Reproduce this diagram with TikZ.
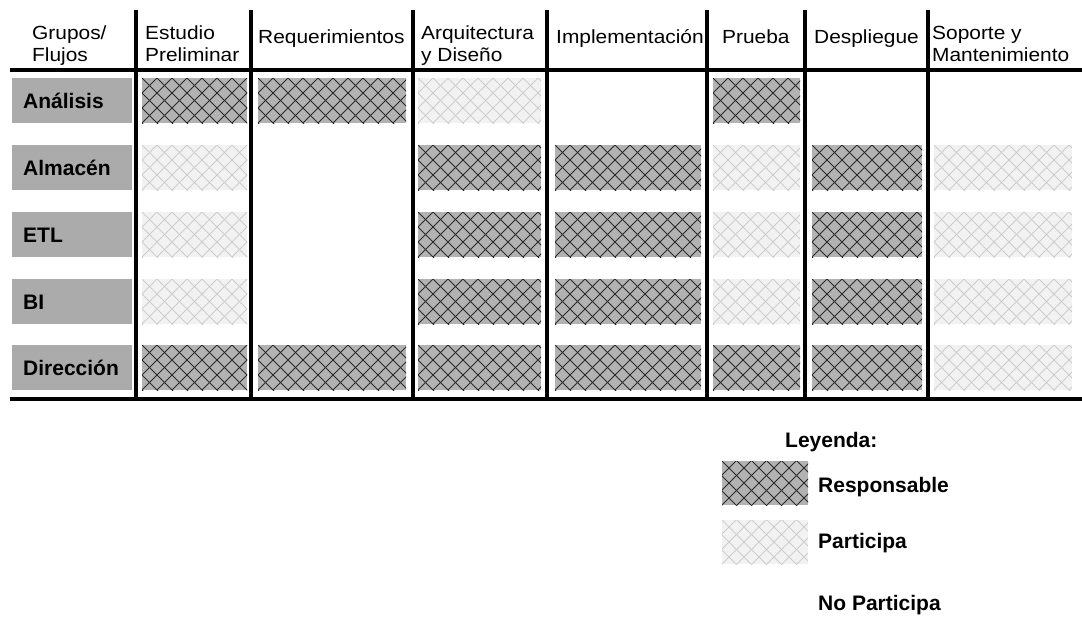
\documentclass[tikz,border=0pt]{standalone}
\usepackage{fontspec}
\setmainfont{Liberation Sans}
\newfontfamily\headfont[FakeStretch=1.1]{Liberation Sans}

\definecolor{boxgray}{HTML}{ABABAB}
\definecolor{respfill}{HTML}{B2B2B2}
\definecolor{resplines}{HTML}{2A2A2A}
\definecolor{partfill}{HTML}{F2F2F2}
\definecolor{partlines}{HTML}{CDCDCD}

% diagonal cross-hatching inside a node, diamonds 15pt x 15pt
\newcommand\crosshatch[1]{%
  \foreach \k in {-4,...,11}{%
    \draw[#1] ([xshift=\k*15pt]path picture bounding box.south west) -- ++(60pt,60pt);
    \draw[#1] ([xshift=\k*15pt]path picture bounding box.north west) -- ++(60pt,-60pt);
  }}

\begin{document}
\begin{tikzpicture}[x=1pt,y=-1pt,
  rule/.style={line width=3.3pt, black},
  baserule/.style={line width=4.5pt, black},
  head/.style={anchor=base west, inner sep=0pt, align=left,
    font=\headfont\fontsize{19}{22}\selectfont},
  labbox/.style={anchor=north west, inner sep=0pt, outer sep=0pt,
    fill=boxgray, minimum width=120pt, minimum height=45pt},
  labtext/.style={anchor=base west, inner sep=0pt,
    font=\fontsize{21}{24}\selectfont\bfseries},
  cellbase/.style={anchor=north west, inner sep=0pt, outer sep=0pt,
    minimum height=45pt},
  cellR/.style={cellbase, fill=respfill,
    path picture={\crosshatch{resplines, line width=1pt}}},
  cellP/.style={cellbase, fill=partfill,
    path picture={\crosshatch{partlines, line width=0.9pt}}},
  c1/.style={minimum width=105pt},
  c2/.style={minimum width=148pt},
  c3/.style={minimum width=123pt},
  c4/.style={minimum width=146pt},
  c5/.style={minimum width=87pt},
  c6/.style={minimum width=110pt},
  c7/.style={minimum width=138pt},
]
\useasboundingbox (0,0) rectangle (1082,616);

% column headers (two-line headers are placed by their last baseline)
\node[head] (hGrupos) at (32,61) {Grupos/\\Flujos};
\node[head] (hEst) at (145,61) {Estudio\\Preliminar};
\node[head] (hReq) at (258,43) {Requerimientos};
\node[head] (hArq) at (421,61) {Arquitectura\\y Diseño};
\node[head] (hImp) at (556,43) {Implementación};
\node[head] (hPru) at (722,43) {Prueba};
\node[head] (hDes) at (814,43) {Despliegue};
\node[head] (hSop) at (932,61) {Soporte y\\Mantenimiento};

% grid rules
\draw[rule] (10,70) -- (1082,70);
\foreach \x in {136,251,413,547,707,805,928}
  \draw[rule] (\x,10) -- (\x,399);
\draw[baserule] (10,399) -- (1082,399);

% group labels
\foreach \n/\t/\top in {gA/Análisis/78, gB/Almacén/145, gC/ETL/212,
                        gD/BI/279, gE/Dirección/345}{
  \node[labbox] (\n) at (12,\top) {};
  \node[labtext] (\n-t) at ([xshift=11pt,yshift=-30pt]\n.north west) {\t};
}

% Análisis
\node[cellR,c1] (a1) at (142,78) {};
\node[cellR,c2] (a2) at (258,78) {};
\node[cellP,c3] (a3) at (418,78) {};
\node[cellR,c5] (a5) at (713,78) {};
% Almacén
\node[cellP,c1] (b1) at (142,145) {};
\node[cellR,c3] (b3) at (418,145) {};
\node[cellR,c4] (b4) at (555,145) {};
\node[cellP,c5] (b5) at (713,145) {};
\node[cellR,c6] (b6) at (812,145) {};
\node[cellP,c7] (b7) at (934,145) {};
% ETL
\node[cellP,c1] (e1) at (142,212) {};
\node[cellR,c3] (e3) at (418,212) {};
\node[cellR,c4] (e4) at (555,212) {};
\node[cellP,c5] (e5) at (713,212) {};
\node[cellR,c6] (e6) at (812,212) {};
\node[cellP,c7] (e7) at (934,212) {};
% BI
\node[cellP,c1] (d1) at (142,279) {};
\node[cellR,c3] (d3) at (418,279) {};
\node[cellR,c4] (d4) at (555,279) {};
\node[cellP,c5] (d5) at (713,279) {};
\node[cellR,c6] (d6) at (812,279) {};
\node[cellP,c7] (d7) at (934,279) {};
% Dirección
\node[cellR,c1] (f1) at (142,345) {};
\node[cellR,c2] (f2) at (258,345) {};
\node[cellR,c3] (f3) at (418,345) {};
\node[cellR,c4] (f4) at (555,345) {};
\node[cellR,c5] (f5) at (713,345) {};
\node[cellR,c6] (f6) at (812,345) {};
\node[cellP,c7] (f7) at (934,345) {};

% legend
\node[labtext] (leyenda) at (785,447) {Leyenda:};
\node[cellR, minimum width=86pt, minimum height=44pt] (legR) at (722,461) {};
\node[cellP, minimum width=86pt, minimum height=44pt] (legP) at (722,520) {};
\node[labtext] (legRt) at (818,492) {Responsable};
\node[labtext] (legPt) at (818,548) {Participa};
\node[labtext] (legNt) at (818,610) {No Participa};
\end{tikzpicture}
\end{document}
